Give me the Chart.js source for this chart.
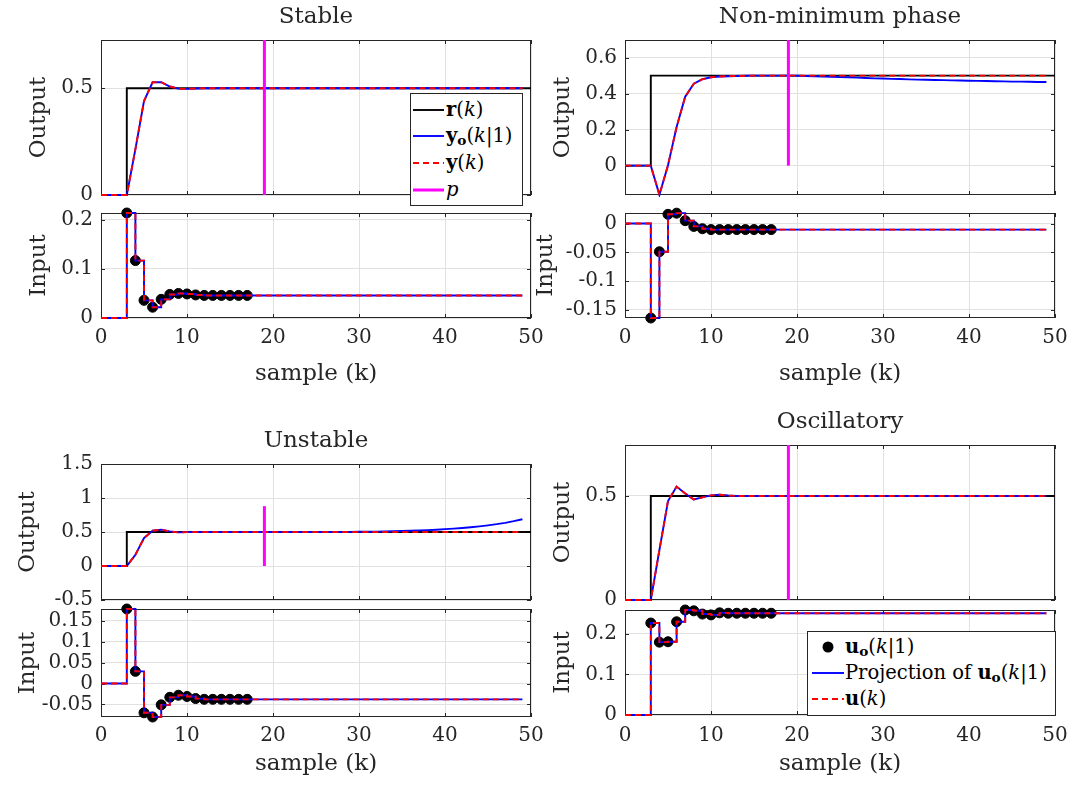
<!DOCTYPE html>
<html>
<head>
<meta charset="utf-8">
<title>Stable / Non-minimum phase / Unstable / Oscillatory</title>
<script src="https://cdn.jsdelivr.net/npm/chart.js@4.4.1/dist/chart.umd.min.js"></script>
<style>
  html, body { margin: 0; padding: 0; background: #fff; }
  #figure { position: relative; width: 1071px; height: 785px; overflow: hidden; background: #fff; }
  #figure canvas { position: absolute; }
  .legend { position: absolute; box-sizing: border-box; background: #fff; border: 1px solid #262626;
            font-family: "DejaVu Serif", serif; font-size: 19.5px; color: #000; }
  .legend .item { position: absolute; left: 0; width: 100%; height: 24px; line-height: 24px; white-space: nowrap; }
  .legend svg { position: absolute; left: 0; top: 0; }
  .legend .label { position: absolute; top: 0; }
  .legend sub { font-size: 70%; line-height: 0; vertical-align: -0.25em; }
</style>
</head>
<body>
<div id="figure"></div>
<script>
// sample index k
const samples = [0, 1, 2, 3, 4, 5, 6, 7, 8, 9, 10, 11, 12, 13, 14, 15, 16, 17, 18, 19,
  20, 21, 22, 23, 24, 25, 26, 27, 28, 29, 30, 31, 32, 33, 34, 35, 36, 37, 38, 39,
  40, 41, 42, 43, 44, 45, 46, 47, 48, 49];
const refSamples = [0, 1, 2, 3, 4, 5, 6, 7, 8, 9, 10, 11, 12, 13, 14, 15, 16, 17, 18, 19,
  20, 21, 22, 23, 24, 25, 26, 27, 28, 29, 30, 31, 32, 33, 34, 35, 36, 37, 38, 39,
  40, 41, 42, 43, 44, 45, 46, 47, 48, 49, 50];
const optSamples = [3, 4, 5, 6, 7, 8, 9, 10, 11, 12, 13, 14, 15, 16, 17];
const pSamples = [19, 19];
const xTicks = [0, 10, 20, 30, 40, 50];

// reference r(k), same in every case
const reference = [0, 0, 0, 0.5, 0.5, 0.5, 0.5, 0.5, 0.5, 0.5,
  0.5, 0.5, 0.5, 0.5, 0.5, 0.5, 0.5, 0.5, 0.5, 0.5,
  0.5, 0.5, 0.5, 0.5, 0.5, 0.5, 0.5, 0.5, 0.5, 0.5,
  0.5, 0.5, 0.5, 0.5, 0.5, 0.5, 0.5, 0.5, 0.5, 0.5,
  0.5, 0.5, 0.5, 0.5, 0.5, 0.5, 0.5, 0.5, 0.5, 0.5, 0.5];

// Stable
const stableY = [0, 0, 0, 0, 0.215, 0.44, 0.528, 0.528, 0.508, 0.498,
  0.497, 0.499, 0.5, 0.5, 0.5, 0.5, 0.5, 0.5, 0.5, 0.5,
  0.5, 0.5, 0.5, 0.5, 0.5, 0.5, 0.5, 0.5, 0.5, 0.5,
  0.5, 0.5, 0.5, 0.5, 0.5, 0.5, 0.5, 0.5, 0.5, 0.5,
  0.5, 0.5, 0.5, 0.5, 0.5, 0.5, 0.5, 0.5, 0.5, 0.5];
const stableYo = stableY;
const stableU = [0, 0, 0, 0.214, 0.117, 0.036, 0.022, 0.038, 0.048, 0.05,
  0.049, 0.047, 0.046, 0.046, 0.046, 0.046, 0.046, 0.046, 0.046, 0.046,
  0.046, 0.046, 0.046, 0.046, 0.046, 0.046, 0.046, 0.046, 0.046, 0.046,
  0.046, 0.046, 0.046, 0.046, 0.046, 0.046, 0.046, 0.046, 0.046, 0.046,
  0.046, 0.046, 0.046, 0.046, 0.046, 0.046, 0.046, 0.046, 0.046, 0.046];
const stableUo = [0.214, 0.117, 0.036, 0.022, 0.038, 0.048, 0.05, 0.049, 0.047, 0.046,
  0.046, 0.046, 0.046, 0.046, 0.046];
const stableP = [0, 1];

// Non-minimum phase
const nmpY = [0, 0, 0, 0, -0.162, 0.002, 0.215, 0.383, 0.455, 0.48,
  0.491, 0.495, 0.497, 0.498, 0.499, 0.5, 0.5, 0.5, 0.5, 0.5,
  0.5, 0.5, 0.5, 0.5, 0.5, 0.5, 0.5, 0.5, 0.5, 0.5,
  0.5, 0.5, 0.5, 0.5, 0.5, 0.5, 0.5, 0.5, 0.5, 0.5,
  0.5, 0.5, 0.5, 0.5, 0.5, 0.5, 0.5, 0.5, 0.5, 0.5];
const nmpYo = [0, 0, 0, 0, -0.162, 0.002, 0.215, 0.383, 0.455, 0.48,
  0.491, 0.495, 0.497, 0.498, 0.499, 0.5, 0.5, 0.5, 0.5, 0.5,
  0.499, 0.498, 0.497, 0.495, 0.494, 0.492, 0.491, 0.489, 0.487, 0.485,
  0.484, 0.482, 0.481, 0.479, 0.478, 0.477, 0.476, 0.475, 0.474, 0.473,
  0.472, 0.471, 0.47, 0.469, 0.468, 0.467, 0.467, 0.466, 0.465, 0.465];
const nmpU = [0, 0, 0, -0.164, -0.049, 0.016, 0.018, 0.005, -0.005, -0.009,
  -0.0105, -0.0105, -0.0105, -0.0105, -0.0105, -0.0105, -0.0105, -0.0105, -0.0105, -0.0105,
  -0.0105, -0.0105, -0.0105, -0.0105, -0.0105, -0.0105, -0.0105, -0.0105, -0.0105, -0.0105,
  -0.0105, -0.0105, -0.0105, -0.0105, -0.0105, -0.0105, -0.0105, -0.0105, -0.0105, -0.0105,
  -0.0105, -0.0105, -0.0105, -0.0105, -0.0105, -0.0105, -0.0105, -0.0105, -0.0105, -0.0105];
const nmpUo = [-0.164, -0.049, 0.016, 0.018, 0.005, -0.005, -0.009, -0.0105, -0.0105, -0.0105,
  -0.0105, -0.0105, -0.0105, -0.0105, -0.0105];
const nmpP = [0, 1];

// Unstable
const unstY = [0, 0, 0, 0, 0.166, 0.41, 0.519, 0.534, 0.509, 0.494,
  0.498, 0.5, 0.5, 0.5, 0.5, 0.5, 0.5, 0.5, 0.5, 0.5,
  0.5, 0.5, 0.5, 0.5, 0.5, 0.5, 0.5, 0.5, 0.5, 0.5,
  0.5, 0.5, 0.5, 0.5, 0.5, 0.5, 0.5, 0.5, 0.5, 0.5,
  0.5, 0.5, 0.5, 0.5, 0.5, 0.5, 0.5, 0.5, 0.5, 0.5];
const unstYo = [0, 0, 0, 0, 0.166, 0.41, 0.519, 0.534, 0.509, 0.494,
  0.498, 0.5, 0.5, 0.5, 0.5, 0.5, 0.5, 0.5, 0.5, 0.5,
  0.5, 0.5, 0.5, 0.5, 0.5, 0.5, 0.5, 0.501, 0.501, 0.502,
  0.503, 0.504, 0.506, 0.508, 0.511, 0.515, 0.518, 0.522, 0.527, 0.534,
  0.542, 0.55, 0.559, 0.57, 0.583, 0.598, 0.615, 0.635, 0.659, 0.688];
const unstU = [0, 0, 0, 0.178, 0.029, -0.07, -0.08, -0.051, -0.033, -0.028,
  -0.031, -0.036, -0.0378, -0.0378, -0.0378, -0.0378, -0.0378, -0.0378, -0.0378, -0.0378,
  -0.0378, -0.0378, -0.0378, -0.0378, -0.0378, -0.0378, -0.0378, -0.0378, -0.0378, -0.0378,
  -0.0378, -0.0378, -0.0378, -0.0378, -0.0378, -0.0378, -0.0378, -0.0378, -0.0378, -0.0378,
  -0.0378, -0.0378, -0.0378, -0.0378, -0.0378, -0.0378, -0.0378, -0.0378, -0.0378, -0.0378];
const unstUo = [0.178, 0.029, -0.07, -0.08, -0.051, -0.033, -0.028, -0.031, -0.036, -0.0378,
  -0.0378, -0.0378, -0.0378, -0.0378, -0.0378];
const unstP = [0, 0.88];

// Oscillatory
const oscY = [0, 0, 0, 0, 0.24, 0.476, 0.545, 0.512, 0.483, 0.493,
  0.503, 0.506, 0.502, 0.5, 0.5, 0.5, 0.5, 0.5, 0.5, 0.5,
  0.5, 0.5, 0.5, 0.5, 0.5, 0.5, 0.5, 0.5, 0.5, 0.5,
  0.5, 0.5, 0.5, 0.5, 0.5, 0.5, 0.5, 0.5, 0.5, 0.5,
  0.5, 0.5, 0.5, 0.5, 0.5, 0.5, 0.5, 0.5, 0.5, 0.5];
const oscYo = oscY;
const oscU = [0, 0, 0, 0.226, 0.179, 0.18, 0.229, 0.258, 0.256, 0.248,
  0.246, 0.251, 0.25, 0.25, 0.25, 0.25, 0.25, 0.25, 0.25, 0.25,
  0.25, 0.25, 0.25, 0.25, 0.25, 0.25, 0.25, 0.25, 0.25, 0.25,
  0.25, 0.25, 0.25, 0.25, 0.25, 0.25, 0.25, 0.25, 0.25, 0.25,
  0.25, 0.25, 0.25, 0.25, 0.25, 0.25, 0.25, 0.25, 0.25, 0.25];
const oscUo = [0.226, 0.179, 0.18, 0.229, 0.258, 0.256, 0.248, 0.246, 0.251, 0.25,
  0.25, 0.25, 0.25, 0.25, 0.25];
const oscP = [0, 1];

// axis limits and tick values
const stableOutRange = [0, 0.726], stableInRange = [0, 0.214];
const nmpOutRange = [-0.163, 0.698], nmpInRange = [-0.164, 0.0183];
const unstOutRange = [-0.5, 1.5], unstInRange = [-0.08, 0.178];
const oscOutRange = [0, 0.745], oscInRange = [0, 0.258];
const stableOutTicks = [0, 0.5], stableInTicks = [0, 0.1, 0.2];
const nmpOutTicks = [0, 0.2, 0.4, 0.6], nmpInTicks = [-0.15, -0.1, -0.05, 0];
const unstOutTicks = [-0.5, 0, 0.5, 1, 1.5], unstInTicks = [-0.05, 0, 0.05, 0.1, 0.15];
const oscOutTicks = [0, 0.5], oscInTicks = [0, 0.1, 0.2];

const BLACK = '#000000', BLUE = '#0000ff', RED = '#ff0000', MAGENTA = '#ff00ff';
const AXIS = '#262626', GRID = '#e1e1e1', TEXT = '#262626';
const FONT = '"DejaVu Serif", serif';
const DASH = [6, 4];
const LW = 1.9;

const fig = document.getElementById('figure');
const pts = (xs, ys) => ys.map((y, i) => ({ x: xs[i], y: y }));

function outputSets(yo, y, p) {
    return [
        { data: pts(refSamples, reference), borderColor: BLACK, borderWidth: LW, stepped: true, order: 4, clip: 2 },
        { data: pts(samples, yo), borderColor: BLUE, borderWidth: LW, order: 3, clip: 2 },
        { data: pts(samples, y), borderColor: RED, borderWidth: LW, borderDash: DASH, order: 2, clip: 2 },
        { data: pts(pSamples, p), borderColor: MAGENTA, borderWidth: 3, order: 1,
          clip: { left: 2, right: 2, top: 0, bottom: 2 } }
    ];
}

function inputSets(u, uo) {
    return [
        { data: pts(optSamples, uo), showLine: false, pointRadius: 5, pointBorderWidth: 1,
          pointBackgroundColor: '#000', pointBorderColor: '#000', order: 3, clip: false },
        { data: pts(samples, u), borderColor: BLUE, borderWidth: LW, stepped: true, order: 2, clip: 2 },
        { data: pts(samples, u), borderColor: RED, borderWidth: LW, stepped: true, borderDash: DASH, order: 1, clip: 2 }
    ];
}

// MATLAB-like box with inward tick marks, drawn under the data
const boxPlugin = {
    id: 'matlabBox',
    beforeDatasetsDraw(chart) {
        const { ctx, chartArea: a, scales: { x, y } } = chart;
        ctx.save();
        ctx.strokeStyle = AXIS;
        ctx.lineWidth = 1;
        ctx.beginPath();
        x.ticks.forEach(t => {
            const px = Math.round(x.getPixelForValue(t.value)) + 0.5;
            ctx.moveTo(px, a.bottom); ctx.lineTo(px, a.bottom - 4);
            ctx.moveTo(px, a.top); ctx.lineTo(px, a.top + 4);
        });
        y.ticks.forEach(t => {
            const py = Math.round(y.getPixelForValue(t.value)) + 0.5;
            ctx.moveTo(a.left, py); ctx.lineTo(a.left + 4, py);
            ctx.moveTo(a.right, py); ctx.lineTo(a.right - 4, py);
        });
        ctx.stroke();
        ctx.strokeRect(a.left + 0.5, a.top + 0.5, a.right - a.left - 1, a.bottom - a.top - 1);
        ctx.restore();
    }
};

function makePanel(cfg) {
    const padR = 20;
    const left = cfg.canvasLeft;
    const top = cfg.area[1] - cfg.padT;
    const w = cfg.area[2] + padR - left;
    const h = cfg.area[3] + cfg.padB - top;
    const canvas = document.createElement('canvas');
    canvas.width = w; canvas.height = h;
    canvas.style.left = left + 'px'; canvas.style.top = top + 'px';
    canvas.style.width = w + 'px'; canvas.style.height = h + 'px';
    fig.appendChild(canvas);

    const showX = !!cfg.xAxis;
    new Chart(canvas, {
        type: 'line',
        data: { datasets: cfg.datasets },
        plugins: [boxPlugin],
        options: {
            responsive: false,
            animation: false,
            devicePixelRatio: 1,
            events: [],
            elements: { point: { radius: 0 }, line: { tension: 0 } },
            layout: { padding: { top: cfg.title ? 0 : cfg.padT, right: padR, bottom: 0, left: 0 } },
            plugins: {
                legend: { display: false },
                tooltip: { enabled: false },
                title: {
                    display: !!cfg.title,
                    text: cfg.title || '',
                    fullSize: false,
                    color: TEXT,
                    font: { family: FONT, size: 23, weight: 'normal', lineHeight: 1.2 },
                    padding: { top: 0, bottom: cfg.padT - 27.6 }
                }
            },
            scales: {
                x: {
                    type: 'linear',
                    min: 0, max: 50,
                    afterBuildTicks: s => { s.ticks = xTicks.map(v => ({ value: v })); },
                    afterFit: s => { s.height = cfg.padB; s.paddingLeft = 0; s.paddingRight = 0; },
                    grid: { color: GRID, lineWidth: 1, drawTicks: false },
                    border: { display: false },
                    ticks: {
                        display: showX, autoSkip: false, maxRotation: 0,
                        padding: showX ? cfg.xAxis.tickPad : 0,
                        color: TEXT, font: { family: FONT, size: 20 },
                        callback: v => String(v)
                    },
                    title: {
                        display: showX, text: 'sample (k)', color: TEXT,
                        font: { family: FONT, size: 23, lineHeight: 1.2 },
                        padding: { top: 0, bottom: showX ? cfg.xAxis.titlePad : 0 }
                    }
                },
                y: {
                    type: 'linear',
                    min: cfg.yRange[0], max: cfg.yRange[1],
                    afterBuildTicks: s => { s.ticks = cfg.yTicks.map(v => ({ value: v })); },
                    afterFit: s => { s.width = cfg.area[0] - left; s.paddingTop = 0; s.paddingBottom = 0; },
                    grid: { color: GRID, lineWidth: 1, drawTicks: false },
                    border: { display: false },
                    ticks: {
                        padding: 8, color: TEXT, font: { family: FONT, size: 20 },
                        callback: v => String(v)
                    },
                    title: {
                        display: true, text: cfg.ylabel, color: TEXT,
                        font: { family: FONT, size: 23, lineHeight: 1.2 },
                        padding: { top: cfg.ylabelX - left - 13.8, bottom: 0 }
                    }
                }
            }
        }
    });
}

const panels = [
    { area: [101, 40, 531, 195], canvasLeft: 0, padT: 37, padB: 12, title: 'Stable',
      ylabel: 'Output', ylabelX: 39, yRange: stableOutRange, yTicks: stableOutTicks,
      datasets: outputSets(stableYo, stableY, stableP) },
    { area: [101, 213, 531, 318], canvasLeft: 0, padT: 15, padB: 72,
      ylabel: 'Input', ylabelX: 39, yRange: stableInRange, yTicks: stableInTicks,
      xAxis: { tickPad: 8, titlePad: 2 }, datasets: inputSets(stableU, stableUo) },
    { area: [625, 40, 1055, 195], canvasLeft: 520, padT: 37, padB: 12, title: 'Non-minimum phase',
      ylabel: 'Output', ylabelX: 563, yRange: nmpOutRange, yTicks: nmpOutTicks,
      datasets: outputSets(nmpYo, nmpY, nmpP) },
    { area: [625, 213, 1055, 318], canvasLeft: 520, padT: 15, padB: 72,
      ylabel: 'Input', ylabelX: 546, yRange: nmpInRange, yTicks: nmpInTicks,
      xAxis: { tickPad: 8, titlePad: 2 }, datasets: inputSets(nmpU, nmpUo) },
    { area: [101, 464, 531, 600], canvasLeft: 0, padT: 37, padB: 12, title: 'Unstable',
      ylabel: 'Output', ylabelX: 28, yRange: unstOutRange, yTicks: unstOutTicks,
      datasets: outputSets(unstYo, unstY, unstP) },
    { area: [101, 609, 531, 717], canvasLeft: 0, padT: 15, padB: 72,
      ylabel: 'Input', ylabelX: 28, yRange: unstInRange, yTicks: unstInTicks,
      xAxis: { tickPad: 7, titlePad: 11 }, datasets: inputSets(unstU, unstUo) },
    { area: [625, 445, 1055, 600], canvasLeft: 520, padT: 37, padB: 12, title: 'Oscillatory',
      ylabel: 'Output', ylabelX: 563, yRange: oscOutRange, yTicks: oscOutTicks,
      datasets: outputSets(oscYo, oscY, oscP) },
    { area: [625, 610, 1055, 715], canvasLeft: 520, padT: 15, padB: 72,
      ylabel: 'Input', ylabelX: 563, yRange: oscInRange, yTicks: oscInTicks,
      xAxis: { tickPad: 9, titlePad: 9 }, datasets: inputSets(oscU, oscUo) }
];
panels.forEach(makePanel);

// legends (rich text, so they are built as HTML on top of the canvases)
const outputLegend = [
    { html: '<b>r</b>(<i>k</i>)', color: BLACK, width: 1.9 },
    { html: '<b>y</b><sub><b>o</b></sub>(<i>k</i>|1)', color: BLUE, width: 1.9 },
    { html: '<b>y</b>(<i>k</i>)', color: RED, width: 1.9, dash: true },
    { html: '<i>p</i>', color: MAGENTA, width: 3 }
];
const inputLegend = [
    { html: '<b>u</b><sub><b>o</b></sub>(<i>k</i>|1)', color: BLACK, marker: true },
    { html: 'Projection of <b>u</b><sub><b>o</b></sub>(<i>k</i>|1)', color: BLUE, width: 1.9 },
    { html: '<b>u</b>(<i>k</i>)', color: RED, width: 1.9, dash: true }
];

function buildLegend(box, items, rowCenters, lineFrom, lineTo, textLeft) {
    const div = document.createElement('div');
    div.className = 'legend';
    div.style.left = box[0] + 'px';
    div.style.top = box[1] + 'px';
    div.style.width = box[2] + 'px';
    div.style.height = box[3] + 'px';
    items.forEach((it, i) => {
        const row = document.createElement('div');
        row.className = 'item';
        row.style.top = (rowCenters[i] - 13) + 'px';
        let sample;
        if (it.marker) {
            sample = `<circle cx="${(lineFrom + lineTo) / 2}" cy="12" r="5.5" fill="${it.color}"/>`;
        } else {
            sample = `<line x1="${lineFrom}" y1="12" x2="${lineTo}" y2="12" stroke="${it.color}" stroke-width="${it.width}"` +
                (it.dash ? ` stroke-dasharray="${DASH.join(' ')}"` : '') + '/>';
        }
        row.innerHTML = `<svg width="${lineTo + 4}" height="24">${sample}</svg>` +
            `<span class="label" style="left:${textLeft}px">${it.html}</span>`;
        div.appendChild(row);
    });
    fig.appendChild(div);
}

buildLegend([410, 93, 113, 113], outputLegend, [17, 43, 70, 97], 2, 33, 35);
buildLegend([807, 631, 249, 85], inputLegend, [16, 42, 68], 4, 36, 37);
</script>
</body>
</html>
